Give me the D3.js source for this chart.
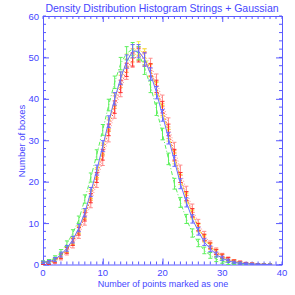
<!DOCTYPE html>
<html lang="en">
<head>
<meta charset="UTF-8">
<title>Density Distribution</title>
<script src="https://cdn.jsdelivr.net/npm/d3@7"></script>
<style>
  body { margin: 0; background: #fff; }
  text { font-family: "Liberation Sans", Arial, sans-serif; fill: #4646ff; }
</style>
</head>
<body>
<div id="chart"></div>
<script>
// x bins (number of points marked as one)
const xs = [0,1,2,3,4,5,6,7,8,9,10,11,12,13,14,15,16,17,18,19,20,21,22,23,24,25,26,27,28,29,30,31,32,33,34,35,36,37,38];

const blueVals   = [0.5,0.6,1.2,2.4,3.9,6.0,8.8,12.5,17.5,22.8,28.6,34.5,40.0,45.0,49.0,51.5,51.5,49.5,46.0,41.5,36.0,30.5,25.0,19.5,15.0,11.0,8.0,5.4,3.8,2.4,1.5,0.9,0.5,0.3,0.2,0.1,0.05,0,0];
const greenVals  = [0.6,0.8,1.6,3.0,5.0,7.6,10.8,15.8,21.0,26.5,32.5,38.5,44.0,48.5,51.0,52.0,51.0,47.5,43.0,37.5,31.5,25.5,19.5,15.0,11.0,7.6,5.2,3.4,2.2,1.3,0.8,0.4,0.2,0.1,0.05,0,0,0,0];
const yellowVals = [0.4,0.5,1.1,2.2,3.7,5.8,8.5,12.2,17.0,22.2,28.0,34.0,39.8,45.0,49.2,51.5,52.2,50.5,47.0,42.5,37.0,31.2,25.6,20.5,16.0,12.0,8.8,6.2,4.3,2.9,1.9,1.2,0.7,0.4,0.2,0.1,0.05,0,0];
const orangeVals = [0.3,0.5,1.0,2.1,3.6,5.6,8.3,11.9,16.6,21.8,27.5,33.5,39.2,44.2,48.0,50.5,51.0,49.8,46.8,42.6,37.4,31.8,26.2,21.0,16.4,12.4,9.1,6.5,4.6,3.1,2.0,1.3,0.8,0.45,0.25,0.12,0.06,0,0];
const redVals    = [0.3,0.4,0.9,2.0,3.4,5.4,8.0,11.5,16.0,21.0,26.5,32.5,38.0,43.0,47.0,49.5,50.5,49.5,47.0,43.0,38.0,32.5,26.5,21.0,16.5,12.5,9.0,6.5,4.5,3.0,2.0,1.3,0.8,0.5,0.3,0.15,0.1,0.05,0];
const pinkVals   = [0.2,0.3,0.7,1.7,3.0,4.8,7.2,10.5,14.8,19.8,25.2,31.0,36.8,42.0,46.3,49.2,50.8,50.5,48.3,44.5,39.5,34.0,28.2,22.8,17.8,13.6,10.0,7.2,5.0,3.4,2.2,1.4,0.9,0.5,0.3,0.2,0.1,0.05,0];
// error bar half-sizes per bin
const errVals    = [0.3,0.4,0.5,0.6,0.7,0.8,0.9,1.0,1.1,1.2,1.3,1.4,1.5,1.5,1.6,1.6,1.6,1.6,1.5,1.5,1.4,1.4,1.3,1.2,1.1,1.0,0.9,0.8,0.7,0.6,0.5,0.4,0.3,0.3,0.2,0.2,0.1,0.1,0.1];

const xTicks = [0,10,20,30,40];
const yTicks = [0,10,20,30,40,50,60];

const series = [
  {vals: pinkVals,   color: '#ff8c8c', dash: '1,2'},
  {vals: orangeVals, color: '#ffac4a', dash: '1,2'},
  {vals: yellowVals, color: '#f2f040', dash: '2,2'},
  {vals: redVals,    color: '#ff3030', dash: '1,2'},
  {vals: greenVals,  color: '#5cf05c', dash: '4,2,1,2'},
  {vals: blueVals,   color: '#6a6aff', dash: null}
];

const W = 295, H = 295;
const pad = {left: 43, right: 13, top: 16, bottom: 30.5};
const axisColor = '#5a5aff';

const svg = d3.select('#chart').append('svg')
  .attr('width', W).attr('height', H);

const x = d3.scaleLinear().domain([0, 40]).range([pad.left, W - pad.right]);
const y = d3.scaleLinear().domain([0, 60]).range([H - pad.bottom, pad.top]);

// frame with major ticks on all four sides (inward)
function frameAxis(axis, tr, major) {
  const g = svg.append('g').attr('transform', tr)
    .call(axis.tickValues(major).tickSizeInner(6).tickSizeOuter(0).tickFormat(''));
  g.select('.domain').attr('stroke', axisColor);
  g.selectAll('.tick line').attr('stroke', axisColor);
}
frameAxis(d3.axisTop(x), `translate(0,${H - pad.bottom})`, xTicks);
frameAxis(d3.axisBottom(x), `translate(0,${pad.top})`, xTicks);
frameAxis(d3.axisRight(y), `translate(${pad.left},0)`, yTicks);
frameAxis(d3.axisLeft(y), `translate(${W - pad.right},0)`, yTicks);

// minor ticks
const xMinor = d3.range(0, 40.01, 1);
const yMinor = d3.range(0, 60.01, 2);
const minorG = svg.append('g').attr('stroke', axisColor).attr('stroke-width', 1);
xMinor.forEach(v => {
  minorG.append('line').attr('x1', x(v)).attr('x2', x(v)).attr('y1', y(0)).attr('y2', y(0) - 3);
  minorG.append('line').attr('x1', x(v)).attr('x2', x(v)).attr('y1', y(60)).attr('y2', y(60) + 3);
});
yMinor.forEach(v => {
  minorG.append('line').attr('y1', y(v)).attr('y2', y(v)).attr('x1', x(0)).attr('x2', x(0) + 3);
  minorG.append('line').attr('y1', y(v)).attr('y2', y(v)).attr('x1', x(40)).attr('x2', x(40) - 3);
});

// tick labels
svg.append('g').selectAll('text').data(xTicks).enter().append('text')
  .attr('x', d => x(d)).attr('y', H - pad.bottom + 11.5)
  .attr('text-anchor', 'middle').attr('font-size', 9.5).text(d => d);
svg.append('g').selectAll('text').data(yTicks).enter().append('text')
  .attr('x', pad.left - 4).attr('y', d => y(d) + 3.5)
  .attr('text-anchor', 'end').attr('font-size', 9.5).text(d => d);

// series: dotted/dashed lines plus error bars
const line = d3.line().x((d, i) => x(xs[i])).y(d => y(d));
series.forEach(s => {
  svg.append('path').datum(s.vals)
    .attr('fill', 'none').attr('stroke', s.color).attr('stroke-width', 1)
    .attr('stroke-dasharray', s.dash)
    .attr('d', line);
  const eb = svg.append('g').attr('stroke', s.color).attr('stroke-width', 1);
  s.vals.forEach((v, i) => {
    const cx = x(xs[i]);
    const lo = y(Math.max(0, v - errVals[i])), hi = y(v + errVals[i]);
    eb.append('line').attr('x1', cx).attr('x2', cx).attr('y1', lo).attr('y2', hi);
    eb.append('line').attr('x1', cx - 2).attr('x2', cx + 2).attr('y1', lo).attr('y2', lo);
    eb.append('line').attr('x1', cx - 2).attr('x2', cx + 2).attr('y1', hi).attr('y2', hi);
  });
});

// titles
svg.append('text').attr('x', 162).attr('y', 11.5)
  .attr('text-anchor', 'middle').attr('font-size', 10.5)
  .text('Density Distribution Histogram Strings + Gaussian');
svg.append('text').attr('x', 163).attr('y', 287)
  .attr('text-anchor', 'middle').attr('font-size', 9)
  .text('Number of points marked as one');
svg.append('text').attr('transform', 'translate(25,141) rotate(-90)')
  .attr('text-anchor', 'middle').attr('font-size', 9.5)
  .text('Number of boxes');
</script>
</body>
</html>
